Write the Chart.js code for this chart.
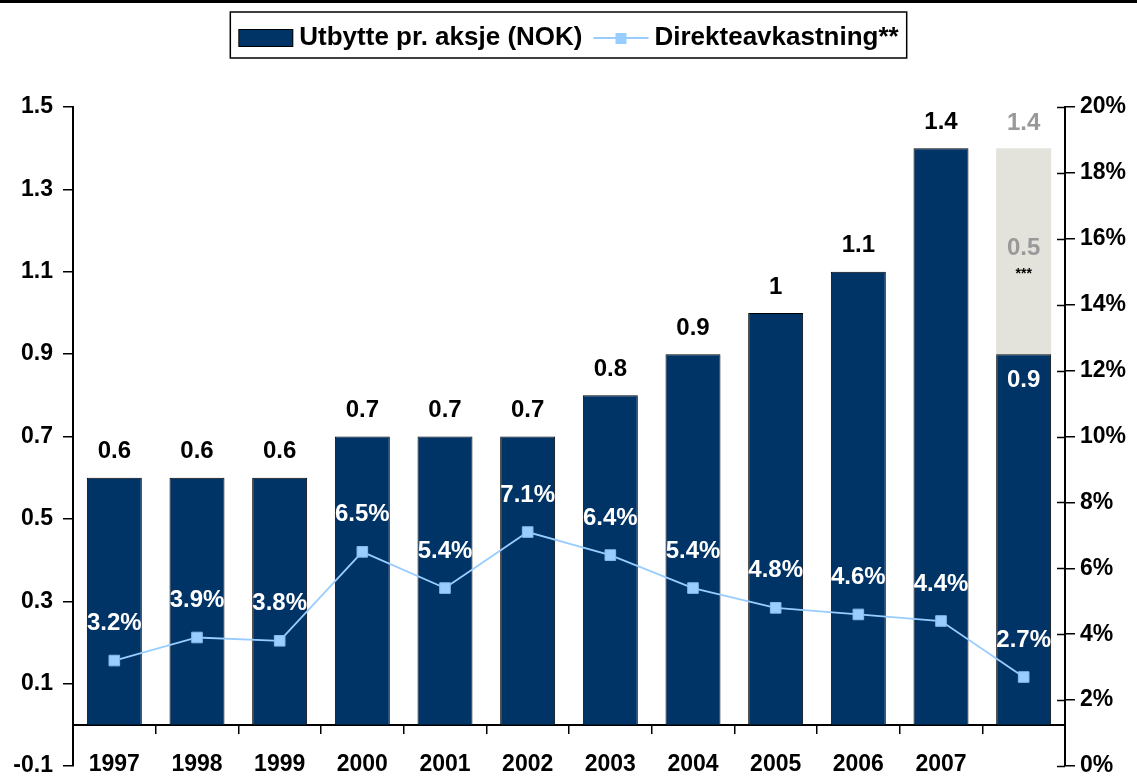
<!DOCTYPE html>
<html>
<head>
<meta charset="utf-8">
<script src="https://cdn.jsdelivr.net/npm/chart.js@4.4.0/dist/chart.umd.min.js"></script>
<style>
html, body { margin: 0; padding: 0; background: #fff; }
#wrap { width: 1137px; height: 778px; position: relative; }
</style>
</head>
<body>
<div id="wrap"><canvas id="canvas"></canvas></div>
<script>
var years = ['1997', '1998', '1999', '2000', '2001', '2002', '2003', '2004', '2005', '2006', '2007', ''];
var dividend = [0.6, 0.6, 0.6, 0.7, 0.7, 0.7, 0.8, 0.9, 1, 1.1, 1.4, 0.9];
var extraDividend = [null, null, null, null, null, null, null, null, null, null, null, 0.5];
var yieldPct = [3.2, 3.9, 3.8, 6.5, 5.4, 7.1, 6.4, 5.4, 4.8, 4.6, 4.4, 2.7];

var FONT = "'Liberation Sans', Arial, sans-serif";
var NAVY = '#003366';
var LIGHT = '#99CCFF';
var GREY_BAR = '#E3E3DB';

// legend swatches (wide canvas so the swatch sits close to its text)
function barSwatch() {
    var c = document.createElement('canvas');
    c.width = 110; c.height = 18;
    var g = c.getContext('2d');
    g.fillStyle = NAVY;
    g.fillRect(31.5, 0.5, 54, 17);
    g.strokeStyle = '#000';
    g.lineWidth = 1;
    g.strokeRect(31.5, 0.5, 54, 17);
    return c;
}
function lineSwatch() {
    var c = document.createElement('canvas');
    c.width = 110; c.height = 18;
    var g = c.getContext('2d');
    g.strokeStyle = LIGHT;
    g.lineWidth = 2;
    g.beginPath(); g.moveTo(31, 9); g.lineTo(86, 9); g.stroke();
    g.fillStyle = LIGHT;
    g.fillRect(53, 4, 11, 11);
    return c;
}
var swatches = [barSwatch(), null, lineSwatch()];

function noVPad(s) {
    s.paddingTop = 0;
    s.paddingBottom = 0;
}

var pageDecor = {
    id: 'pageDecor',
    afterInit: function(chart) {
        var lg = chart.legend;
        var fit = lg.fit;
        lg.fit = function() { fit.call(this); this.height = 93; };
    },
    beforeDraw: function(chart) {
        var ctx = chart.ctx;
        ctx.save();
        ctx.fillStyle = '#fff';
        ctx.fillRect(0, 0, chart.width, chart.height);
        ctx.fillStyle = '#000';
        ctx.fillRect(0, 0, chart.width, 3);
        ctx.restore();
    },
    afterDraw: function(chart) {
        var boxes = chart.legend.legendHitBoxes;
        if (!boxes || !boxes.length) return;
        var first = boxes[0], last = boxes[boxes.length - 1];
        var ctx = chart.ctx;
        ctx.save();
        ctx.strokeStyle = '#000';
        ctx.lineWidth = 1.5;
        ctx.strokeRect(first.left - 8, 12, last.left + last.width - first.left + 16, 46);
        // right axis ticks cross the axis line
        var y2 = chart.scales.y2;
        ctx.beginPath();
        y2.ticks.forEach(function(t) {
            var py = Math.round(y2.getPixelForValue(t.value)) + 0.5;
            ctx.moveTo(y2.left - 8, py);
            ctx.lineTo(y2.left, py);
        });
        ctx.stroke();
        ctx.restore();
    }
};

var valueLabels = {
    id: 'valueLabels',
    afterDatasetsDraw: function(chart) {
        var ctx = chart.ctx;
        var barMeta = chart.getDatasetMeta(0);
        var extraMeta = chart.getDatasetMeta(1);
        var lineMeta = chart.getDatasetMeta(2);
        var big = 'bold 24px ' + FONT;
        ctx.save();
        ctx.textAlign = 'center';
        ctx.textBaseline = 'middle';
        ctx.font = big;
        barMeta.data.forEach(function(bar, i) {
            if (extraDividend[i] != null) {
                ctx.fillStyle = '#fff';
                ctx.fillText(String(dividend[i]), bar.x, bar.y + 26);
                var top = extraMeta.data[i];
                var total = Math.round((dividend[i] + extraDividend[i]) * 10) / 10;
                ctx.fillStyle = '#999999';
                ctx.fillText(String(total), top.x, top.y - 25);
                ctx.fillText(String(extraDividend[i]), top.x, (top.y + top.base) / 2 - 3);
                ctx.fillStyle = '#000';
                ctx.font = 'bold 14px ' + FONT;
                ctx.fillText('***', top.x, (top.y + top.base) / 2 + 23);
                ctx.font = big;
            } else {
                ctx.fillStyle = '#000';
                ctx.fillText(String(dividend[i]), bar.x, bar.y - 26);
            }
        });
        ctx.fillStyle = '#fff';
        lineMeta.data.forEach(function(pt, i) {
            ctx.fillText(yieldPct[i].toFixed(1) + '%', pt.x, pt.y - 37);
        });
        ctx.restore();
    }
};

var tickFont = { family: FONT, size: 23, weight: 'bold' };

var ctx = document.getElementById('canvas').getContext('2d');
var chart = new Chart(ctx, {
    type: 'bar',
    data: {
        labels: years,
        datasets: [
            {
                label: 'Utbytte pr. aksje (NOK)',
                data: dividend,
                backgroundColor: NAVY,
                borderColor: '#000',
                borderWidth: 1,
                barPercentage: 0.665,
                categoryPercentage: 1,
                yAxisID: 'y',
                order: 2
            },
            {
                label: 'extra',
                data: extraDividend,
                backgroundColor: GREY_BAR,
                borderWidth: 0,
                barPercentage: 0.665,
                categoryPercentage: 1,
                yAxisID: 'y',
                order: 3
            },
            {
                type: 'line',
                label: 'Direkteavkastning**',
                data: yieldPct,
                borderColor: LIGHT,
                backgroundColor: LIGHT,
                borderWidth: 1.8,
                pointStyle: 'rect',
                pointRadius: 7.5,
                pointBackgroundColor: LIGHT,
                pointBorderColor: '#88BBEE',
                pointBorderWidth: 1,
                yAxisID: 'y2',
                order: 0
            }
        ]
    },
    options: {
        responsive: true,
        maintainAspectRatio: false,
        animation: false,
        layout: { padding: { top: 14, bottom: 12, left: 0, right: 0 } },
        plugins: {
            tooltip: { enabled: false },
            legend: {
                position: 'top',
                labels: {
                    color: '#000',
                    font: { family: FONT, size: 26, weight: 'bold' },
                    usePointStyle: true,
                    pointStyleWidth: 48,
                    padding: 11,
                    filter: function(item) { return item.datasetIndex !== 1; },
                    sort: function(a, b) { return a.datasetIndex - b.datasetIndex; },
                    generateLabels: function(chart) {
                        var items = Chart.defaults.plugins.legend.labels.generateLabels(chart);
                        items.forEach(function(it) { it.pointStyle = swatches[it.datasetIndex]; });
                        return items;
                    }
                }
            }
        },
        scales: {
            x: {
                type: 'category',
                stacked: true,
                position: { y: 0 },
                offset: true,
                grid: { offset: true, drawOnChartArea: false, tickLength: 8, color: '#000', lineWidth: 1.5 },
                border: { display: true, color: '#000', width: 2 },
                ticks: { color: '#000', font: tickFont, padding: 18, maxRotation: 0, autoSkip: false },
                afterFit: noVPad
            },
            y: {
                position: 'left',
                stacked: true,
                min: -0.1,
                max: 1.5,
                ticks: {
                    stepSize: 0.2,
                    color: '#000',
                    font: tickFont,
                    padding: 10,
                    callback: function(v) { return v.toFixed(1); }
                },
                grid: { drawOnChartArea: false, tickLength: 10, color: '#000', lineWidth: 1.5 },
                border: { color: '#000', width: 2 },
                afterFit: function(s) { s.width = 73; noVPad(s); }
            },
            y2: {
                position: 'right',
                min: 0,
                max: 20,
                ticks: {
                    stepSize: 2,
                    color: '#000',
                    font: tickFont,
                    padding: 5,
                    callback: function(v) { return v + '%'; }
                },
                grid: { drawOnChartArea: false, tickLength: 10, color: '#000', lineWidth: 1.5 },
                border: { color: '#000', width: 2 },
                afterFit: function(s) { s.width = 72; noVPad(s); }
            }
        }
    },
    plugins: [pageDecor, valueLabels]
});
</script>
</body>
</html>
